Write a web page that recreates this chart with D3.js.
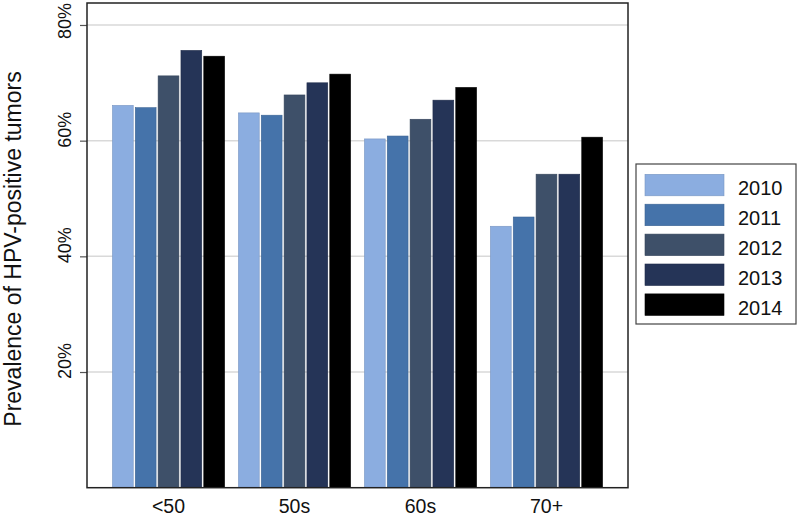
<!DOCTYPE html>
<html>
<head>
<meta charset="utf-8">
<script src="https://cdn.jsdelivr.net/npm/d3@7"></script>
<style>
  html, body { margin: 0; padding: 0; background: #fff; }
  svg { display: block; font-family: "Liberation Sans", Arial, Helvetica, sans-serif; }
</style>
</head>
<body>
<svg id="chart" width="800" height="518"></svg>
<script>
// ---- data ----
const ageGroups = ["<50", "50s", "60s", "70+"];
const years = ["2010", "2011", "2012", "2013", "2014"];
const v2010 = [66.1, 64.8, 60.3, 45.2];
const v2011 = [65.7, 64.4, 60.8, 46.8];
const v2012 = [71.2, 67.9, 63.7, 54.2];
const v2013 = [75.6, 70.0, 67.0, 54.2];
const v2014 = [74.6, 71.5, 69.2, 60.6];
const yTicks = [20, 40, 60, 80];
const yTitle = "Prevalence of HPV-positive tumors";

const seriesValues = [v2010, v2011, v2012, v2013, v2014];
const colors = ["#8badE0", "#4573aa", "#3e5069", "#253457", "#000000"];

// ---- layout ----
const plot = { left: 87, right: 628, top: 3, bottom: 487.7 };
const svg = d3.select("#chart");

const x0 = d3.scaleBand().domain(ageGroups).range([plot.left, plot.right])
  .paddingInner(0.11).paddingOuter(0.202);
const x1 = d3.scaleBand().domain(years).range([0, x0.bandwidth()])
  .paddingInner(0.09).paddingOuter(0);
const y = d3.scaleLinear().domain([0, 83.8]).range([plot.bottom, plot.top]);
const color = d3.scaleOrdinal().domain(years).range(colors);

// gridlines
svg.append("g").selectAll("line").data(yTicks).join("line")
  .attr("x1", plot.left).attr("x2", plot.right)
  .attr("y1", d => y(d)).attr("y2", d => y(d))
  .attr("stroke", "#d9d9d9").attr("stroke-width", 1.5);

// bars
const rows = ageGroups.map((g, i) => ({ group: g, vals: years.map((yr, j) => ({ year: yr, value: seriesValues[j][i] })) }));
svg.append("g").selectAll("g").data(rows).join("g")
  .attr("transform", d => `translate(${x0(d.group)},0)`)
  .selectAll("rect").data(d => d.vals).join("rect")
  .attr("x", d => x1(d.year))
  .attr("width", x1.bandwidth())
  .attr("y", d => y(d.value))
  .attr("height", d => y(0) - y(d.value))
  .attr("fill", d => color(d.year))
  .attr("stroke", d => d3.color(color(d.year)).darker(0.4))
  .attr("stroke-width", 0.6);

// y axis ticks
const yAxis = d3.axisLeft(y).tickValues(yTicks).tickSize(7).tickFormat("");
const ya = svg.append("g").attr("transform", `translate(${plot.left},0)`).call(yAxis);
ya.select(".domain").remove();
ya.selectAll(".tick line").attr("stroke", "#555").attr("stroke-width", 1.2);

// y tick labels (rotated)
svg.append("g").selectAll("text").data(yTicks).join("text")
  .attr("transform", d => `translate(71,${Math.max(y(d) - 11, plot.top + 18)}) rotate(-90)`)
  .attr("text-anchor", "middle")
  .attr("font-size", 18)
  .attr("fill", "#111")
  .text(d => d + "%");

// frame
svg.append("rect")
  .attr("x", plot.left).attr("y", plot.top)
  .attr("width", plot.right - plot.left).attr("height", plot.bottom - plot.top)
  .attr("fill", "none").attr("stroke", "#222").attr("stroke-width", 1.5);

// x labels
svg.append("g").selectAll("text").data(ageGroups).join("text")
  .attr("x", d => x0(d) + x0.bandwidth() / 2)
  .attr("y", 513)
  .attr("text-anchor", "middle")
  .attr("font-size", 19.5)
  .attr("fill", "#111")
  .text(d => d);

// y title
svg.append("text")
  .attr("transform", `translate(21,249) rotate(-90)`)
  .attr("text-anchor", "middle")
  .attr("font-size", 23)
  .attr("fill", "#111")
  .text(yTitle);

// legend
const lg = svg.append("g");
lg.append("rect").attr("x", 636).attr("y", 164).attr("width", 160).attr("height", 160)
  .attr("fill", "#fff").attr("stroke", "#444").attr("stroke-width", 1.2);
const items = lg.selectAll("g.item").data(years).join("g").attr("class", "item")
  .attr("transform", (d, i) => `translate(645,${174.3 + i * 29.9})`);
items.append("rect").attr("width", 79).attr("height", 21.5)
  .attr("fill", d => color(d))
  .attr("stroke", d => d3.color(color(d)).darker(0.4)).attr("stroke-width", 0.6);
items.append("text").attr("x", 93).attr("y", 21)
  .attr("font-size", 20).attr("fill", "#111").text(d => d);
</script>
</body>
</html>
